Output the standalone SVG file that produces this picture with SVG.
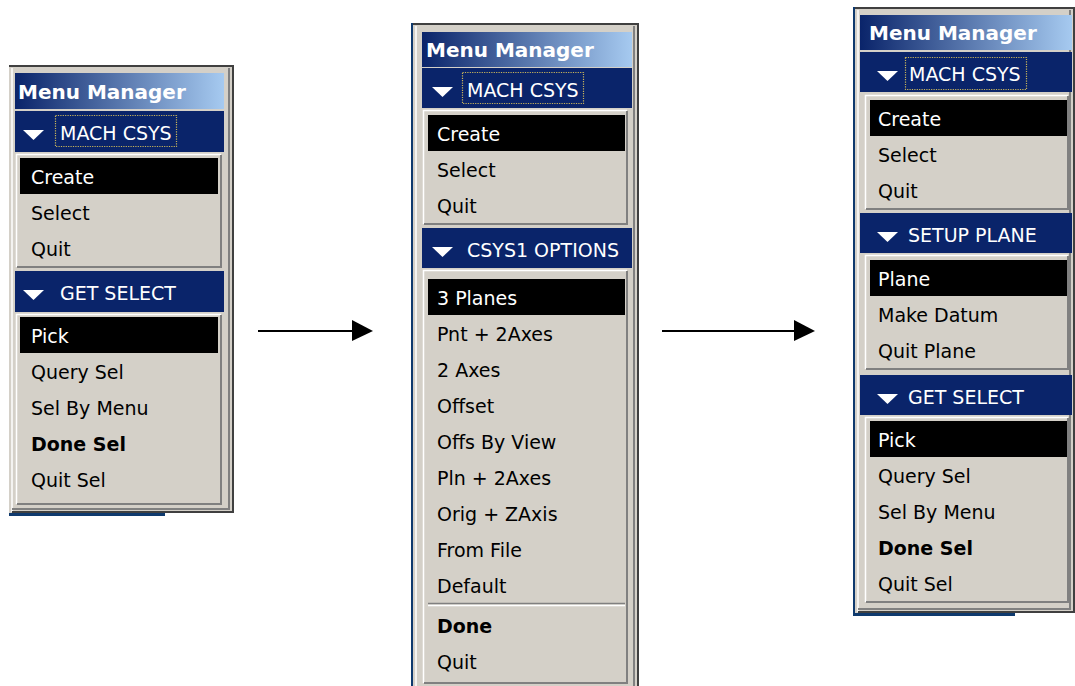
<svg xmlns="http://www.w3.org/2000/svg" width="1075" height="686" viewBox="0 0 1075 686">
<style>
.frame{fill:#d4d0c8}
.hdr{fill:#0a246a}
.items{fill:#d4d0c8}
.hl{fill:#000}
.lt{fill:none;stroke:#ffffff;stroke-width:1.5}
.dk{fill:none;stroke:#808080;stroke-width:2}
.xdk{fill:none;stroke:#404040;stroke-width:2}
.edge{fill:#0f3a6e}
.focus{fill:none;stroke:#c8b45a;stroke-width:1.2;stroke-dasharray:1.2 1.2}
.tri{fill:#fff}
text{font-family:"DejaVu Sans",Verdana,sans-serif}
.ttl{font-size:20px;font-weight:bold;fill:#fff}
.ht{font-size:19px;fill:#fff}
.it{font-size:19px;fill:#000}
.itw{font-size:19px;fill:#fff}
.b{font-weight:bold}
.conn{stroke:#000;stroke-width:2;fill:none}
</style>
<defs>
<linearGradient id="tg" x1="0" y1="0" x2="1" y2="0">
<stop offset="0" stop-color="#0a246a"/>
<stop offset="1" stop-color="#a6caf0"/>
</linearGradient>
</defs>

<g id="panel1">
<rect class="frame" x="9" y="65" width="225" height="448"/>
<path class="xdk" d="M9,66 H234"/>
<path class="lt" d="M12,512 V68"/>
<path class="dk" d="M12,509 H229 V68"/>
<path class="xdk" d="M12,512 H233 V66"/>
<rect class="edge" x="9" y="513" width="156" height="3"/>
<rect fill="url(#tg)" x="15" y="73" width="209" height="36"/>
<text class="ttl" x="18" y="99">Menu Manager</text>
<rect class="hdr" x="15" y="111" width="209" height="41"/>
<polygon class="tri" points="23,130 44,130 33.5,140"/>
<rect class="focus" x="55.5" y="115.5" width="121" height="31"/>
<text class="ht" x="60" y="140">MACH CSYS</text>
<rect class="items" x="16" y="154" width="206" height="114"/>
<path class="lt" d="M16.5,267 V154.5 H221"/>
<path class="dk" d="M17,267 H221 V155"/>
<rect class="hl" x="20" y="158" width="198" height="36"/>
<text class="itw" x="31" y="184">Create</text>
<text class="it" x="31" y="220">Select</text>
<text class="it" x="31" y="256">Quit</text>
<rect class="hdr" x="15" y="271" width="209" height="41"/>
<polygon class="tri" points="23,290 44,290 33.5,300"/>
<text class="ht" x="60" y="300">GET SELECT</text>
<rect class="items" x="16" y="314" width="206" height="191"/>
<path class="lt" d="M16.5,504 V314.5 H221"/>
<path class="dk" d="M17,504 H221 V315"/>
<rect class="hl" x="20" y="317" width="198" height="36"/>
<text class="itw" x="31" y="343">Pick</text>
<text class="it" x="31" y="379">Query Sel</text>
<text class="it" x="31" y="415">Sel By Menu</text>
<text class="it b" x="31" y="451">Done Sel</text>
<text class="it" x="31" y="487">Quit Sel</text>
</g>

<g id="panel2">
<rect class="frame" x="413" y="23" width="226" height="663"/>
<path class="xdk" d="M413,24 H639"/>
<rect class="edge" x="411" y="23" width="2" height="663"/>
<path class="lt" d="M416,686 V26"/>
<path class="dk" d="M634,686 V26"/>
<path class="xdk" d="M638,686 V24"/>
<rect fill="url(#tg)" x="422" y="32" width="210" height="35"/>
<text class="ttl" x="426" y="57">Menu Manager</text>
<rect class="hdr" x="422" y="68" width="210" height="40"/>
<polygon class="tri" points="432,87 453,87 442.5,97"/>
<rect class="focus" x="462.5" y="72.5" width="121" height="31"/>
<text class="ht" x="467" y="97">MACH CSYS</text>
<rect class="items" x="423" y="110" width="205" height="115"/>
<path class="lt" d="M423.5,224 V110.5 H627"/>
<path class="dk" d="M424,224 H627 V111"/>
<rect class="hl" x="428" y="115" width="197" height="36"/>
<text class="itw" x="437" y="141">Create</text>
<text class="it" x="437" y="177">Select</text>
<text class="it" x="437" y="213">Quit</text>
<rect class="hdr" x="422" y="228" width="210" height="40"/>
<polygon class="tri" points="432,247 453,247 442.5,257"/>
<text class="ht" x="467" y="257">CSYS1 OPTIONS</text>
<rect class="items" x="423" y="270" width="205" height="414"/>
<path class="lt" d="M423.5,683 V270.5 H627"/>
<path class="dk" d="M424,683 H627 V271"/>
<rect class="hl" x="428" y="279" width="197" height="36"/>
<text class="itw" x="437" y="305">3 Planes</text>
<text class="it" x="437" y="341">Pnt + 2Axes</text>
<text class="it" x="437" y="377">2 Axes</text>
<text class="it" x="437" y="413">Offset</text>
<text class="it" x="437" y="449">Offs By View</text>
<text class="it" x="437" y="485">Pln + 2Axes</text>
<text class="it" x="437" y="521">Orig + ZAxis</text>
<text class="it" x="437" y="557">From File</text>
<text class="it" x="437" y="593">Default</text>
<path d="M428,603.5 H625" stroke="#808080" stroke-width="1.5"/>
<path d="M428,605.5 H625" stroke="#ffffff" stroke-width="1.5"/>
<text class="it b" x="437" y="633">Done</text>
<text class="it" x="437" y="669">Quit</text>
</g>

<g id="panel3">
<rect class="frame" x="855" y="7" width="220" height="606"/>
<path class="xdk" d="M855,8 H1075"/>
<rect class="edge" x="853" y="7" width="2" height="609"/>
<path class="lt" d="M858,612 V10"/>
<path class="dk" d="M858,609 H1070 V10"/>
<path class="xdk" d="M858,612 H1074 V8"/>
<rect class="edge" x="855" y="613" width="160" height="3"/>
<rect fill="url(#tg)" x="860" y="15" width="212" height="35"/>
<text class="ttl" x="869" y="40">Menu Manager</text>
<rect class="hdr" x="860" y="52" width="212" height="40"/>
<polygon class="tri" points="877,71 898,71 887.5,81"/>
<rect class="focus" x="905.5" y="57.5" width="121" height="32"/>
<text class="ht" x="909" y="81">MACH CSYS</text>
<rect class="items" x="865" y="95" width="204" height="115"/>
<path class="lt" d="M865.5,209 V95.5 H1068"/>
<path class="dk" d="M866,209 H1068 V96"/>
<rect class="hl" x="870" y="100" width="197" height="36"/>
<text class="itw" x="878" y="126">Create</text>
<text class="it" x="878" y="162">Select</text>
<text class="it" x="878" y="198">Quit</text>
<rect class="hdr" x="860" y="213" width="212" height="40"/>
<polygon class="tri" points="877,232 898,232 887.5,242"/>
<text class="ht" x="908" y="242">SETUP PLANE</text>
<rect class="items" x="865" y="255" width="204" height="115"/>
<path class="lt" d="M865.5,369 V255.5 H1068"/>
<path class="dk" d="M866,369 H1068 V256"/>
<rect class="hl" x="870" y="260" width="197" height="36"/>
<text class="itw" x="878" y="286">Plane</text>
<text class="it" x="878" y="322">Make Datum</text>
<text class="it" x="878" y="358">Quit Plane</text>
<rect class="hdr" x="860" y="375" width="212" height="40"/>
<polygon class="tri" points="877,394 898,394 887.5,404"/>
<text class="ht" x="908" y="404">GET SELECT</text>
<rect class="items" x="865" y="417" width="204" height="186"/>
<path class="lt" d="M865.5,602 V417.5 H1068"/>
<path class="dk" d="M866,602 H1068 V418"/>
<rect class="hl" x="870" y="421" width="197" height="36"/>
<text class="itw" x="878" y="447">Pick</text>
<text class="it" x="878" y="483">Query Sel</text>
<text class="it" x="878" y="519">Sel By Menu</text>
<text class="it b" x="878" y="555">Done Sel</text>
<text class="it" x="878" y="591">Quit Sel</text>
</g>

<g id="connectors">
<path class="conn" d="M258,331 H355"/>
<polygon points="352,320 373,331 352,341" fill="#000"/>
<path class="conn" d="M662,331 H797"/>
<polygon points="794,320 815,331 794,341" fill="#000"/>
</g>
</svg>
